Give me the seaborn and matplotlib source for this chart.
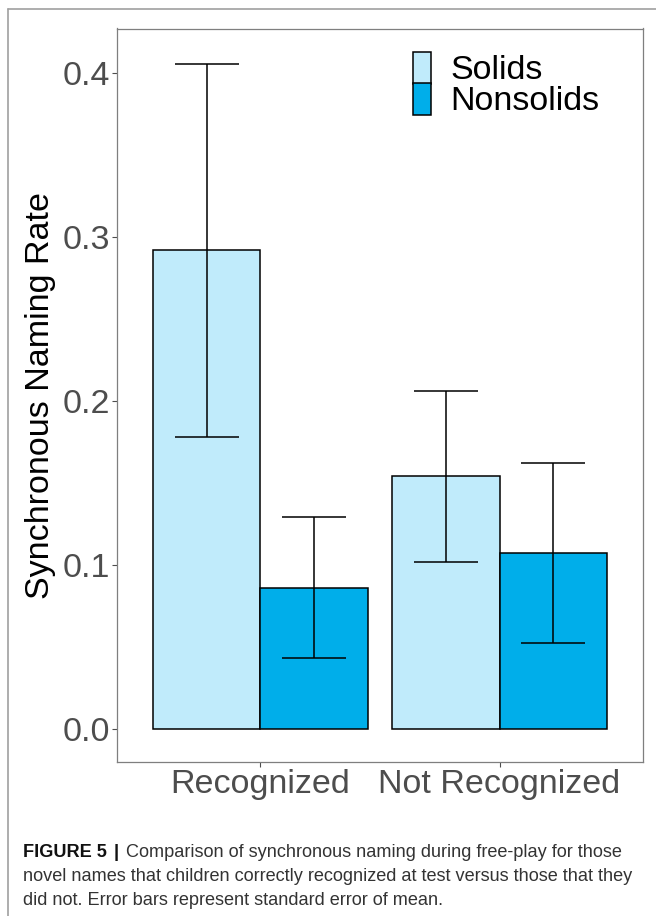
import matplotlib
matplotlib.use('Agg')
import matplotlib.pyplot as plt
from matplotlib.lines import Line2D
import pandas as pd
import seaborn as sns

# data
categories = ['Recognized', 'Not Recognized']
types = ['Solids', 'Nonsolids']
solids_mean = [0.292, 0.154]
nonsolids_mean = [0.086, 0.107]
solids_se = [0.114, 0.052]
nonsolids_se = [0.043, 0.055]

df = pd.DataFrame({
    'recog': categories * 2,
    'type': [types[0]] * 2 + [types[1]] * 2,
    'rate': solids_mean + nonsolids_mean,
    'se': solids_se + nonsolids_se,
})

sns.set_style('white')
plt.rcParams['font.family'] = ['Liberation Sans', 'DejaVu Sans']

W, H = 656, 916
fig = plt.figure(figsize=(W / 100, H / 100), dpi=100)
ax = fig.add_axes([117 / W, 1 - 762 / H, (643 - 117) / W, (762 - 28.5) / H])

sns.barplot(data=df, x='recog', y='rate', hue='type', order=categories,
            hue_order=types, palette=['#C0EBFB', '#00AEEA'], saturation=1,
            width=0.9, edgecolor='black', linewidth=1.1, errorbar=None, ax=ax)

# error bars (standard error of mean)
for cont, t in zip(ax.containers, types):
    sub = df[df['type'] == t].set_index('recog')
    for bar, cat in zip(cont, categories):
        x = bar.get_x() + bar.get_width() / 2
        ax.errorbar(x, bar.get_height(), yerr=sub.loc[cat, 'se'], color='black',
                    elinewidth=1.1, capsize=23, capthick=1.1, zorder=5)

ax.set_xlim(-0.6, 1.6)
ax.set_ylim(-0.0204, 0.4274)
ax.set_yticks([0.0, 0.1, 0.2, 0.3, 0.4])
ax.set_yticklabels(['0.0', '0.1', '0.2', '0.3', '0.4'])
ax.set_xlabel('')
ax.set_ylabel('Synchronous Naming Rate', fontsize=24.5, color='black', labelpad=5)
ax.tick_params(axis='both', labelsize=24.5, labelcolor='#4D4D4D', color='#4D4D4D',
               length=3.5, width=0.8, pad=1.5, left=True, bottom=True)
for s in ax.spines.values():
    s.set_color('#7F7F7F')
    s.set_linewidth(0.9)

leg = ax.legend(loc='upper left', bbox_to_anchor=(0.5627, 0.968), frameon=False,
                fontsize=24.5, handlelength=0.53, handleheight=1.05,
                labelspacing=-0.1, handletextpad=0.56, borderpad=0, borderaxespad=0)
for p in leg.get_patches():
    p.set_edgecolor('black')
    p.set_linewidth(1.1)
for txt in leg.get_texts():
    txt.set_color('black')

# outer frame of the figure page
fig.add_artist(Line2D([8 / W, 1], [1 - 9 / H, 1 - 9 / H], color='#A0A0A0', lw=1.2))
fig.add_artist(Line2D([8 / W, 8 / W], [0, 1 - 9 / H], color='#A0A0A0', lw=1.2))

# caption
cap_lines = [
    'Comparison of synchronous naming during free-play for those',
    'novel names that children correctly recognized at test versus those that they',
    'did not. Error bars represent standard error of mean.',
]
fs = 13.1
fig.canvas.draw()
r = fig.canvas.get_renderer()
t1 = fig.text(23 / W, 1 - 857 / H, 'FIGURE 5', fontsize=fs, fontweight='bold',
              color='#111111', va='baseline')
bb = t1.get_window_extent(r)
t2 = fig.text(bb.x1 / W + 7 / W, 1 - 857 / H, '|', fontsize=fs, fontweight='bold',
              color='#111111', va='baseline')
bb2 = t2.get_window_extent(r)
fig.text(bb2.x1 / W + 7 / W, 1 - 857 / H, cap_lines[0], fontsize=fs,
         color='#333333', va='baseline')
fig.text(23 / W, 1 - 881 / H, cap_lines[1], fontsize=fs, color='#333333', va='baseline')
fig.text(23 / W, 1 - 905 / H, cap_lines[2], fontsize=fs, color='#333333', va='baseline')

fig.savefig('out.png', dpi=100)
